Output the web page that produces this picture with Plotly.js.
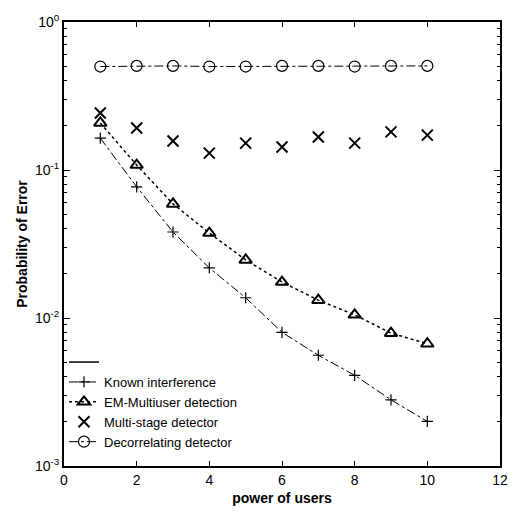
<!DOCTYPE html>
<html>
<head>
<meta charset="utf-8">
<script src="https://cdn.plot.ly/plotly-3.0.1.min.js"></script>
<style>html,body{margin:0;padding:0;background:#fff}#chart{width:516px;height:512px}</style>
</head>
<body>
<div id="chart"></div>
<script>
const powerOfUsers = [1, 2, 3, 4, 5, 6, 7, 8, 9, 10];
const knownInterference = [0.164, 0.077, 0.0381, 0.0218, 0.0137, 0.0080, 0.0056, 0.0041, 0.0028, 0.0020];
const emMultiuser = [0.208, 0.108, 0.059, 0.0375, 0.0247, 0.0175, 0.0132, 0.0105, 0.0079, 0.0067];
const multiStage = [0.243, 0.192, 0.157, 0.130, 0.152, 0.143, 0.167, 0.152, 0.181, 0.172];
const decorrelating = [0.50, 0.505, 0.505, 0.50, 0.50, 0.505, 0.505, 0.50, 0.505, 0.505];
const seriesNames = ["Known interference", "EM-Multiuser detection", "Multi-stage detector", "Decorrelating detector"];
const xTickVals = [0, 2, 4, 6, 8, 10, 12];
const yTickVals = [0.001, 0.01, 0.1, 1];
const yTickText = ["10<sup>-3</sup>", "10<sup>-2</sup>", "10<sup>-1</sup>", "10<sup>0</sup>"];

const minorVals = [];
[0.001, 0.01, 0.1].forEach(d => { for (let k = 2; k <= 9; k++) minorVals.push(+(d * k).toPrecision(3)); });

const traces = [
  {x: [null], y: [null], mode: 'lines', name: ' ', line: {color: '#000', width: 1.5}, showlegend: true},
  {x: powerOfUsers, y: knownInterference, mode: 'lines+markers', name: seriesNames[0],
   line: {color: '#000', width: 1, dash: 'dashdot'},
   marker: {symbol: 'cross-thin-open', size: 8, color: '#000', line: {color: '#000', width: 1.2}}},
  {x: powerOfUsers, y: emMultiuser, mode: 'lines+markers', name: seriesNames[1],
   line: {color: '#000', width: 1.5, dash: 'dot'},
   marker: {symbol: 'triangle-up-open', size: 11, color: '#000', line: {color: '#000', width: 2}}},
  {x: powerOfUsers, y: multiStage, mode: 'markers', name: seriesNames[2],
   marker: {symbol: 'x-thin-open', size: 11, color: '#000', line: {color: '#000', width: 2}}},
  {x: powerOfUsers, y: decorrelating, mode: 'lines+markers', name: seriesNames[3],
   line: {color: '#000', width: 1, dash: 'dashdot'},
   marker: {symbol: 'circle-open', size: 11, color: '#000', line: {color: '#000', width: 1.2}}}
];

const layout = {
  width: 516, height: 512,
  margin: {l: 64, r: 16, t: 22, b: 46},
  paper_bgcolor: '#fff', plot_bgcolor: '#fff',
  font: {family: 'Liberation Sans, Arial, sans-serif', color: '#000', size: 14},
  showlegend: true,
  legend: {x: 0.0, y: 0.02, xanchor: 'left', yanchor: 'bottom', bgcolor: 'rgba(0,0,0,0)',
           borderwidth: 0, font: {size: 13}, tracegroupgap: 0},
  xaxis: {
    range: [0, 12], tickmode: 'array', tickvals: xTickVals,
    ticks: 'inside', ticklen: 5, tickwidth: 1, tickcolor: '#000',
    showline: true, linecolor: '#000', linewidth: 2, mirror: 'ticks',
    showgrid: false, zeroline: false,
    title: {text: '<b>power of users</b>', font: {size: 14}, standoff: 6}
  },
  yaxis: {
    type: 'log', range: [-3, 0], tickmode: 'array', tickvals: yTickVals, ticktext: yTickText,
    ticks: 'inside', ticklen: 6, tickwidth: 1, tickcolor: '#000',
    showline: true, linecolor: '#000', linewidth: 2, mirror: 'ticks',
    showgrid: false, zeroline: false,
    minor: {tickmode: 'array', tickvals: minorVals, ticks: 'inside', ticklen: 3, tickcolor: '#000', showgrid: false},
    title: {text: '<b>Probability of Error</b>', font: {size: 14}, standoff: 4}
  }
};

Plotly.newPlot('chart', traces, layout, {displayModeBar: false, staticPlot: true});
</script>
</body>
</html>
